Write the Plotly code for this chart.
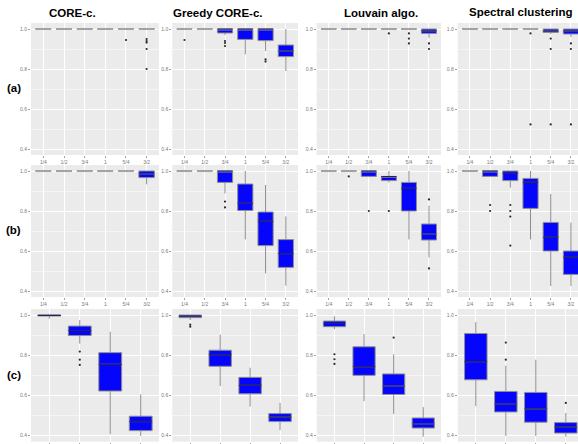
import plotly.graph_objects as go

CATS6 = ["1/4", "1/2", "3/4", "1", "5/4", "3/2"]
CATS4 = ["1/4", "1/2", "3/4", "1"]

COL_TITLES = ["CORE-c.", "Greedy CORE-c.", "Louvain algo.", "Spectral clustering"]
ROW_LABELS = ["(a)", "(b)", "(c)"]

# each box: [lower whisker, q1, median, q3, upper whisker]
A_CORE = [[1.0, 1.0, 1.0, 1.0, 1.0], [1.0, 1.0, 1.0, 1.0, 1.0], [1.0, 1.0, 1.0, 1.0, 1.0],
          [1.0, 1.0, 1.0, 1.0, 1.0], [1.0, 1.0, 1.0, 1.0, 1.0], [1.0, 1.0, 1.0, 1.0, 1.0]]
A_CORE_OUT = [("5/4", 0.945), ("3/2", 0.95), ("3/2", 0.94), ("3/2", 0.932), ("3/2", 0.90), ("3/2", 0.80)]

A_GREEDY = [[1.0, 1.0, 1.0, 1.0, 1.0], [1.0, 1.0, 1.0, 1.0, 1.0], [0.97, 0.98, 1.0, 1.0, 1.0],
            [0.873, 0.948, 1.0, 1.0, 1.0], [0.89, 0.942, 1.0, 1.0, 1.0], [0.79, 0.862, 0.89, 0.92, 1.0]]
A_GREEDY_OUT = [("1/4", 0.945), ("3/4", 0.94), ("3/4", 0.93), ("3/4", 0.915), ("5/4", 0.848), ("5/4", 0.837)]

A_LOUVAIN = [[1.0, 1.0, 1.0, 1.0, 1.0], [1.0, 1.0, 1.0, 1.0, 1.0], [1.0, 1.0, 1.0, 1.0, 1.0],
             [1.0, 1.0, 1.0, 1.0, 1.0], [1.0, 1.0, 1.0, 1.0, 1.0], [0.957, 0.978, 0.99, 1.0, 1.0]]
A_LOUVAIN_OUT = [("1", 0.978), ("5/4", 0.978), ("5/4", 0.952), ("5/4", 0.928), ("3/2", 0.928), ("3/2", 0.90)]

A_SPECTRAL = [[1.0, 1.0, 1.0, 1.0, 1.0], [1.0, 1.0, 1.0, 1.0, 1.0], [1.0, 1.0, 1.0, 1.0, 1.0],
              [1.0, 1.0, 1.0, 1.0, 1.0], [0.975, 0.983, 0.99, 1.0, 1.0], [0.96, 0.975, 0.99, 1.0, 1.0]]
A_SPECTRAL_OUT = [("1", 0.978), ("1", 0.523), ("5/4", 0.952), ("5/4", 0.90), ("5/4", 0.523),
                  ("3/2", 0.928), ("3/2", 0.90), ("3/2", 0.523)]

B_CORE = [[1.0, 1.0, 1.0, 1.0, 1.0], [1.0, 1.0, 1.0, 1.0, 1.0], [1.0, 1.0, 1.0, 1.0, 1.0],
          [1.0, 1.0, 1.0, 1.0, 1.0], [1.0, 1.0, 1.0, 1.0, 1.0], [0.933, 0.967, 0.985, 1.0, 1.0]]
B_CORE_OUT = []

B_GREEDY = [[1.0, 1.0, 1.0, 1.0, 1.0], [1.0, 1.0, 1.0, 1.0, 1.0], [0.888, 0.943, 1.0, 1.0, 1.0],
            [0.658, 0.802, 0.838, 0.935, 1.0], [0.488, 0.627, 0.748, 0.795, 0.93],
            [0.427, 0.518, 0.587, 0.657, 0.773]]
B_GREEDY_OUT = [("3/4", 0.847), ("3/4", 0.818)]

B_LOUVAIN = [[1.0, 1.0, 1.0, 1.0, 1.0], [1.0, 1.0, 1.0, 1.0, 1.0], [0.973, 0.973, 1.0, 1.0, 1.0],
             [0.943, 0.952, 0.972, 0.973, 1.0], [0.658, 0.80, 0.913, 0.943, 1.0],
             [0.568, 0.655, 0.685, 0.735, 0.827]]
B_LOUVAIN_OUT = [("1/2", 0.973), ("3/4", 0.80), ("1", 0.80), ("3/2", 0.858), ("3/2", 0.513)]

B_SPECTRAL = [[1.0, 1.0, 1.0, 1.0, 1.0], [0.973, 0.973, 1.0, 1.0, 1.0], [0.917, 0.952, 0.988, 1.0, 1.0],
              [0.658, 0.813, 0.943, 0.963, 1.0], [0.425, 0.60, 0.668, 0.743, 0.885],
              [0.425, 0.483, 0.568, 0.60, 0.742]]
B_SPECTRAL_OUT = [("1/2", 0.83), ("1/2", 0.80), ("3/4", 0.83), ("3/4", 0.80), ("3/4", 0.772), ("3/4", 0.627)]

C_CORE = [[0.982, 0.995, 0.998, 1.0, 1.0], [0.858, 0.898, 0.923, 0.945, 0.975],
          [0.408, 0.622, 0.755, 0.813, 0.917], [0.398, 0.425, 0.47, 0.497, 0.605]]
C_CORE_OUT = [("1/2", 0.818), ("1/2", 0.778), ("1/2", 0.752)]

C_GREEDY = [[0.975, 0.987, 0.995, 1.0, 1.0], [0.647, 0.745, 0.803, 0.825, 0.903],
            [0.545, 0.608, 0.65, 0.69, 0.738], [0.428, 0.47, 0.492, 0.51, 0.563]]
C_GREEDY_OUT = [("1/4", 0.952), ("1/4", 0.942)]

C_LOUVAIN = [[0.93, 0.942, 0.958, 0.97, 0.993], [0.572, 0.70, 0.743, 0.842, 0.905],
             [0.508, 0.605, 0.647, 0.707, 0.805], [0.395, 0.438, 0.458, 0.488, 0.542]]
C_LOUVAIN_OUT = [("1/4", 0.805), ("1/4", 0.78), ("1/4", 0.757), ("3/4", 0.888)]

C_SPECTRAL = [[0.547, 0.678, 0.768, 0.908, 0.965], [0.398, 0.518, 0.557, 0.62, 0.748],
              [0.398, 0.467, 0.533, 0.615, 0.778], [0.395, 0.413, 0.442, 0.465, 0.513]]
C_SPECTRAL_OUT = [("1/2", 0.863), ("1/2", 0.778), ("1", 0.563)]

PANELS = [[A_CORE, A_GREEDY, A_LOUVAIN, A_SPECTRAL],
          [B_CORE, B_GREEDY, B_LOUVAIN, B_SPECTRAL],
          [C_CORE, C_GREEDY, C_LOUVAIN, C_SPECTRAL]]
OUTLIERS = [[A_CORE_OUT, A_GREEDY_OUT, A_LOUVAIN_OUT, A_SPECTRAL_OUT],
            [B_CORE_OUT, B_GREEDY_OUT, B_LOUVAIN_OUT, B_SPECTRAL_OUT],
            [C_CORE_OUT, C_GREEDY_OUT, C_LOUVAIN_OUT, C_SPECTRAL_OUT]]

# ---------------- layout constants ----------------
W, H = 578, 444
COL_PX = [(31, 159), (172.3, 298), (316.7, 441), (457.8, 578)]
ROW_PX = [(23, 155), (165, 297), (309, 441.7)]
TITLE_POS = [(72, 12.7), (217, 12.7), (381, 13), (521, 12)]
ROWLAB_POS = [(13.5, 88), (13.5, 230), (13.5, 375)]

BLUE = "#0505fb"
GRAY = "#8e8e8e"
DARK = "#26265a"
FONT = "Liberation Sans, Arial, sans-serif"

fig = go.Figure()
layout = dict(width=W, height=H, margin=dict(l=0, r=0, t=0, b=0),
              paper_bgcolor="white", plot_bgcolor="#EBEBEB", showlegend=False,
              boxmode="overlay", font=dict(family=FONT))

idx = 0
for r in range(3):
    for c in range(4):
        idx += 1
        sfx = "" if idx == 1 else str(idx)
        xa, ya = "x" + sfx, "y" + sfx
        cats = CATS6 if r < 2 else CATS4
        stats = PANELS[r][c]
        lo = [s[0] for s in stats]
        q1 = [s[1] for s in stats]
        med = [s[2] for s in stats]
        q3 = [s[3] for s in stats]
        hi = [s[4] for s in stats]

        fig.add_trace(go.Box(x=cats, lowerfence=lo, q1=q1, median=med, q3=q3, upperfence=hi,
                             orientation="v", xaxis=xa, yaxis=ya, fillcolor=BLUE,
                             line=dict(color=GRAY, width=1), whiskerwidth=0, width=0.75,
                             boxpoints=False, hoverinfo="skip"))
        nf = [i for i in range(len(cats)) if q3[i] > q1[i]]
        fl = [i for i in range(len(cats)) if q3[i] <= q1[i]]
        for sel, col, wd in ((nf, DARK, 1.2), (fl, "#a2a2a2", 2)):
            if not sel:
                continue
            mv = [med[i] for i in sel]
            fig.add_trace(go.Box(x=[cats[i] for i in sel], lowerfence=mv, q1=mv, median=mv,
                                 q3=mv, upperfence=mv, orientation="v", xaxis=xa, yaxis=ya,
                                 fillcolor="rgba(0,0,0,0)", line=dict(color=col, width=wd),
                                 whiskerwidth=0, width=0.75, boxpoints=False, hoverinfo="skip"))
        outs = OUTLIERS[r][c]
        if outs:
            fig.add_trace(go.Scatter(x=[o[0] for o in outs], y=[o[1] for o in outs],
                                     mode="markers", xaxis=xa, yaxis=ya,
                                     marker=dict(size=2.2, color="#2a2a2a"), hoverinfo="skip"))

        n = len(cats)
        x0, x1 = COL_PX[c]
        if c == 3:
            ppu = 20.2 if n == 6 else 30.0
            xr = [-0.6, -0.6 + (x1 - x0) / ppu]
        else:
            xr = [-0.6, n - 0.4]
        y0, y1 = ROW_PX[r]
        layout["xaxis" + sfx] = dict(
            domain=[x0 / W, x1 / W], anchor=ya, type="category",
            categoryorder="array", categoryarray=cats, range=xr,
            showgrid=True, gridcolor="white", gridwidth=1, zeroline=False, showline=False,
            ticks="outside", ticklen=2, tickwidth=0.8, tickcolor="#8a8a8a",
            showticklabels=(r < 2), tickfont=dict(size=5, color="#7a7a7a", family=FONT))
        layout["yaxis" + sfx] = dict(
            domain=[1 - y1 / H, 1 - y0 / H], anchor=xa, range=[0.37, 1.03],
            tick0=0.4, dtick=0.2, tickformat=".1f",
            showgrid=True, gridcolor="white", gridwidth=1, zeroline=False, showline=False,
            minor=dict(tick0=0.4, dtick=0.1, showgrid=True, gridcolor="white", gridwidth=0.5),
            ticks="outside", ticklen=2, tickwidth=0.8, tickcolor="#8a8a8a",
            tickfont=dict(size=5, color="#7a7a7a", family=FONT))

ann = []
for (px, py), t in zip(TITLE_POS, COL_TITLES):
    ann.append(dict(text="<b>" + t + "</b>", x=px / W, y=1 - py / H, xref="paper", yref="paper",
                    xanchor="center", yanchor="middle", showarrow=False,
                    font=dict(size=11.5, color="black", family=FONT)))
for (px, py), t in zip(ROWLAB_POS, ROW_LABELS):
    ann.append(dict(text="<b>" + t + "</b>", x=px / W, y=1 - py / H, xref="paper", yref="paper",
                    xanchor="center", yanchor="middle", showarrow=False,
                    font=dict(size=11.5, color="black", family=FONT)))
layout["annotations"] = ann

fig.update_layout(**layout)
fig.write_html("out.html", config={"displayModeBar": False, "staticPlot": True},
               post_script="document.body.style.margin='0';document.body.style.overflow='hidden';")
